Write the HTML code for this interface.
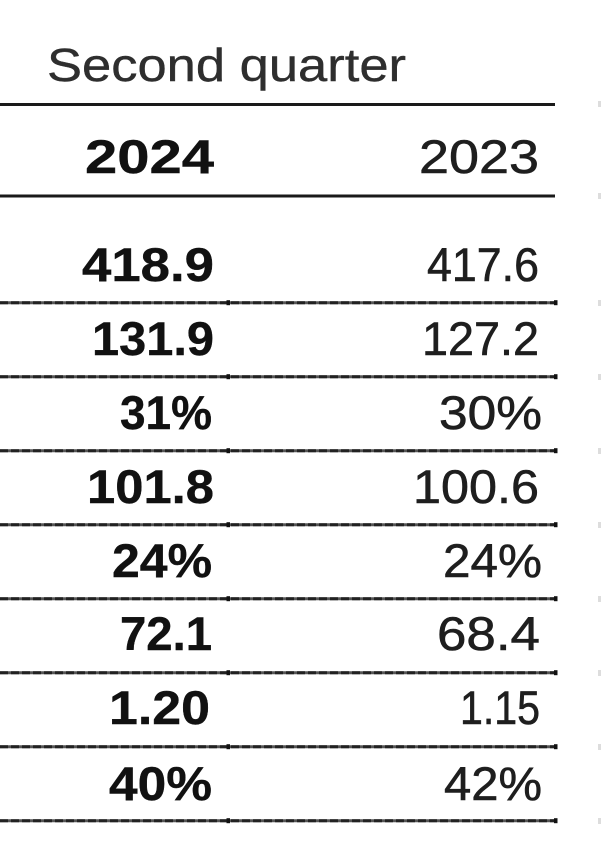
<!DOCTYPE html>
<html><head><meta charset="utf-8"><style>
html,body{margin:0;padding:0;background:#fff;}
svg{display:block;}
text{font-family:"Liberation Sans",Arial,sans-serif;}
.b{font-weight:bold;fill:#111;font-size:47px;stroke:#111;stroke-width:0.4px;}
.r{font-weight:normal;fill:#1e1e1e;font-size:47px;stroke:#1e1e1e;stroke-width:0.6px;}
</style></head><body>
<svg width="601" height="855" viewBox="0 0 601 855" xmlns="http://www.w3.org/2000/svg">
<rect width="601" height="855" fill="#fff"/>
<text x="47" y="81" font-size="46" fill="#2e2e2e" stroke="#2e2e2e" stroke-width="0.4" textLength="359" lengthAdjust="spacingAndGlyphs">Second quarter</text>
<line x1="0" y1="104.5" x2="555" y2="104.5" stroke="#1a1a1a" stroke-width="3"/>
<line x1="0" y1="196" x2="555" y2="196" stroke="#1a1a1a" stroke-width="3"/>
<text class="b" x="214" y="173" text-anchor="end" font-size="49" textLength="129" lengthAdjust="spacingAndGlyphs">2024</text>
<text class="r" x="539" y="173" text-anchor="end" font-size="49" textLength="120" lengthAdjust="spacingAndGlyphs">2023</text>

<g stroke-width="3">
<g stroke="#555">
<line x1="0" y1="302.7" x2="557" y2="302.7"/>
<line x1="0" y1="376.7" x2="557" y2="376.7"/>
<line x1="0" y1="450.7" x2="557" y2="450.7"/>
<line x1="0" y1="524.7" x2="557" y2="524.7"/>
<line x1="0" y1="598.7" x2="557" y2="598.7"/>
<line x1="0" y1="672.7" x2="557" y2="672.7"/>
<line x1="0" y1="746.7" x2="557" y2="746.7"/>
<line x1="0" y1="820.7" x2="557" y2="820.7"/>
</g>
<g stroke="#222" stroke-dasharray="8 3">
<line x1="0" y1="302.7" x2="557" y2="302.7"/>
<line x1="0" y1="376.7" x2="557" y2="376.7"/>
<line x1="0" y1="450.7" x2="557" y2="450.7"/>
<line x1="0" y1="524.7" x2="557" y2="524.7"/>
<line x1="0" y1="598.7" x2="557" y2="598.7"/>
<line x1="0" y1="672.7" x2="557" y2="672.7"/>
<line x1="0" y1="746.7" x2="557" y2="746.7"/>
<line x1="0" y1="820.7" x2="557" y2="820.7"/>
</g>
</g>
<g fill="#111">
<rect x="226.5" y="300.2" width="3.5" height="5"/><rect x="554" y="300.2" width="3.5" height="5"/>
<rect x="226.5" y="374.2" width="3.5" height="5"/><rect x="554" y="374.2" width="3.5" height="5"/>
<rect x="226.5" y="448.2" width="3.5" height="5"/><rect x="554" y="448.2" width="3.5" height="5"/>
<rect x="226.5" y="522.2" width="3.5" height="5"/><rect x="554" y="522.2" width="3.5" height="5"/>
<rect x="226.5" y="596.2" width="3.5" height="5"/><rect x="554" y="596.2" width="3.5" height="5"/>
<rect x="226.5" y="670.2" width="3.5" height="5"/><rect x="554" y="670.2" width="3.5" height="5"/>
<rect x="226.5" y="744.2" width="3.5" height="5"/><rect x="554" y="744.2" width="3.5" height="5"/>
<rect x="226.5" y="818.2" width="3.5" height="5"/><rect x="554" y="818.2" width="3.5" height="5"/>
</g>
<g fill="#ddd">
<rect x="598" y="101" width="3" height="6"/><rect x="598" y="193" width="3" height="6"/>
<rect x="598" y="300" width="3" height="6"/><rect x="598" y="374" width="3" height="6"/>
<rect x="598" y="448" width="3" height="6"/><rect x="598" y="522" width="3" height="6"/>
<rect x="598" y="596" width="3" height="6"/><rect x="598" y="670" width="3" height="6"/>
<rect x="598" y="744" width="3" height="6"/><rect x="598" y="818" width="3" height="6"/>
</g>

<text class="b" x="214" y="281" text-anchor="end" textLength="132" lengthAdjust="spacingAndGlyphs">418.9</text>
<text class="r" x="539" y="281" text-anchor="end" textLength="112" lengthAdjust="spacingAndGlyphs">417.6</text>

<text class="b" x="214" y="355" text-anchor="end" textLength="122" lengthAdjust="spacingAndGlyphs">131.9</text>
<text class="r" x="539" y="355" text-anchor="end" textLength="117" lengthAdjust="spacingAndGlyphs">127.2</text>

<text class="b" x="212" y="429" text-anchor="end" textLength="92" lengthAdjust="spacingAndGlyphs">31%</text>
<text class="r" x="542" y="429" text-anchor="end" textLength="103" lengthAdjust="spacingAndGlyphs">30%</text>

<text class="b" x="214" y="503" text-anchor="end" textLength="127" lengthAdjust="spacingAndGlyphs">101.8</text>
<text class="r" x="539" y="503" text-anchor="end" textLength="126" lengthAdjust="spacingAndGlyphs">100.6</text>

<text class="b" x="212" y="577" text-anchor="end" textLength="100" lengthAdjust="spacingAndGlyphs">24%</text>
<text class="r" x="542" y="577" text-anchor="end" textLength="99" lengthAdjust="spacingAndGlyphs">24%</text>

<text class="b" x="212" y="650" text-anchor="end" textLength="92" lengthAdjust="spacingAndGlyphs">72.1</text>
<text class="r" x="540" y="650" text-anchor="end" textLength="103" lengthAdjust="spacingAndGlyphs">68.4</text>

<text class="b" x="210" y="724" text-anchor="end" textLength="101" lengthAdjust="spacingAndGlyphs">1.20</text>
<text class="r" x="540" y="724" text-anchor="end" textLength="80" lengthAdjust="spacingAndGlyphs">1.15</text>

<text class="b" x="212" y="800" text-anchor="end" textLength="103" lengthAdjust="spacingAndGlyphs">40%</text>
<text class="r" x="542" y="800" text-anchor="end" textLength="98" lengthAdjust="spacingAndGlyphs">42%</text>
</svg>
</body></html>
